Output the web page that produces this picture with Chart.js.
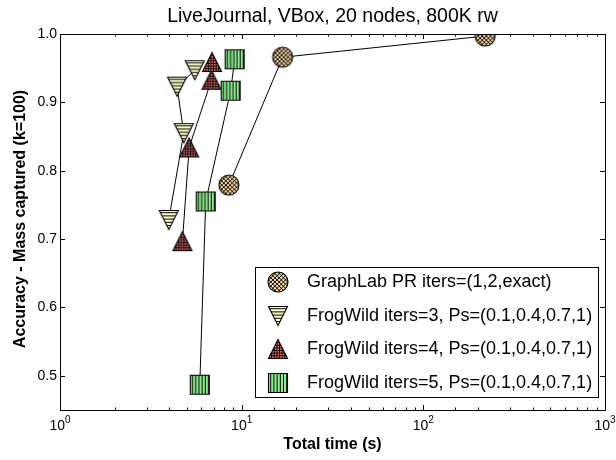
<!DOCTYPE html>
<html>
<head>
<meta charset="utf-8">
<script src="https://cdn.jsdelivr.net/npm/chart.js@4.4.1/dist/chart.umd.min.js"></script>
<style>
  html, body { margin: 0; padding: 0; background: #fff; }
</style>
</head>
<body>
<canvas id="chart" width="616" height="460"></canvas>
<script>
/* ── data ─────────────────────────────────────────────────────────── */
const TITLE = 'LiveJournal, VBox, 20 nodes, 800K rw';
const X_LABEL = 'Total time (s)';
const Y_LABEL = 'Accuracy - Mass captured (k=100)';
const X_MAJOR = [1, 10, 100, 1000];
const X_EXP = ['0', '1', '2', '3'];
const Y_TICKS = [0.5, 0.6, 0.7, 0.8, 0.9, 1.0];

const SERIES_NAMES = [
  'GraphLab PR iters=(1,2,exact)',
  'FrogWild iters=3, Ps=(0.1,0.4,0.7,1)',
  'FrogWild iters=4, Ps=(0.1,0.4,0.7,1)',
  'FrogWild iters=5, Ps=(0.1,0.4,0.7,1)',
];

const graphlabTime = [8.5, 16.8, 219];
const graphlabAcc  = [0.779, 0.966, 0.997];
const fw3Time = [3.97, 4.80, 4.41, 5.52];
const fw3Acc  = [0.728, 0.855, 0.923, 0.947];
const fw4Time = [4.72, 5.14, 6.82, 6.87];
const fw4Acc  = [0.697, 0.834, 0.933, 0.959];
const fw5Time = [5.88, 6.34, 8.70, 9.15];
const fw5Acc  = [0.487, 0.755, 0.917, 0.963];

const FONT = "'Liberation Sans', Arial, sans-serif";

/* ── hatched marker images ────────────────────────────────────────── */
function makeMarker(shape, fill, hatch) {
  const S = 24, m = S / 2, h = 9.5;
  const c = document.createElement('canvas');
  c.width = S; c.height = S;
  const g = c.getContext('2d');
  const path = () => {
    g.beginPath();
    if (shape === 'circle') g.arc(m, m, 10, 0, Math.PI * 2);
    else if (shape === 'down') { g.moveTo(m - h, m - h); g.lineTo(m + h, m - h); g.lineTo(m, m + h); g.closePath(); }
    else if (shape === 'up') { g.moveTo(m, m - h); g.lineTo(m + h, m + h); g.lineTo(m - h, m + h); g.closePath(); }
    else g.rect(m - h, m - h, 2 * h, 2 * h);
  };
  g.save();
  path();
  g.clip();
  g.fillStyle = fill;
  g.fillRect(0, 0, S, S);
  g.strokeStyle = '#000';
  g.lineWidth = 1;
  g.beginPath();
  if (hatch === 'x') {
    for (let k = -S; k < 2 * S; k += 4.2) {
      g.moveTo(k, 0); g.lineTo(k + S, S);
      g.moveTo(k, S); g.lineTo(k + S, 0);
    }
  } else if (hatch === '-') {
    for (let y = 1.5; y < S; y += 3.2) { g.moveTo(0, y); g.lineTo(S, y); }
  } else if (hatch === '+') {
    for (let k = 0.5; k < S; k += 2.6) {
      g.moveTo(0, k); g.lineTo(S, k);
      g.moveTo(k, 0); g.lineTo(k, S);
    }
  } else if (hatch === '|') {
    for (let x = 1.5; x < S; x += 3.2) { g.moveTo(x, 0); g.lineTo(x, S); }
  }
  g.stroke();
  g.restore();
  path();
  g.lineWidth = 1.1;
  g.strokeStyle = '#000';
  g.stroke();
  return c;
}

const MARKERS = [
  makeMarker('circle', '#fcd9a3', 'x'),
  makeMarker('down', '#ffffcc', '-'),
  makeMarker('up', '#ff7a7a', '+'),
  makeMarker('square', '#90ee90', '|'),
];

const toPoints = (xs, ys) => xs.map((x, i) => ({ x, y: ys[i] }));

function series(i, xs, ys, order) {
  return {
    label: SERIES_NAMES[i],
    data: toPoints(xs, ys),
    showLine: true,
    borderColor: '#000',
    borderWidth: 1,
    pointStyle: MARKERS[i],
    pointRadius: 10,
    order,
  };
}

/* ── frame, inward ticks, labels, legend ──────────────────────────── */
const decorations = {
  id: 'decorations',
  afterDraw(chart) {
    const { ctx, chartArea: a } = chart;
    const xs = chart.scales.x, ys = chart.scales.y;
    ctx.save();
    ctx.strokeStyle = '#000';
    ctx.lineWidth = 1;
    ctx.strokeRect(a.left + 0.5, a.top + 0.5, a.right - a.left, a.bottom - a.top);

    // x ticks (major + minor) on bottom and top, pointing in
    ctx.beginPath();
    xs.ticks.forEach(t => {
      const px = Math.round(xs.getPixelForValue(t.value)) + 0.5;
      const major = X_MAJOR.includes(t.value);
      const len = major ? 5 : 2.5;
      ctx.moveTo(px, a.bottom); ctx.lineTo(px, a.bottom - len);
      ctx.moveTo(px, a.top); ctx.lineTo(px, a.top + len);
    });
    // y ticks left and right
    Y_TICKS.forEach(v => {
      const py = Math.round(ys.getPixelForValue(v)) + 0.5;
      ctx.moveTo(a.left, py); ctx.lineTo(a.left + 5, py);
      ctx.moveTo(a.right, py); ctx.lineTo(a.right - 5, py);
    });
    ctx.stroke();

    // x tick labels 10^n
    ctx.fillStyle = '#000';
    ctx.textBaseline = 'alphabetic';
    X_MAJOR.forEach((v, i) => {
      const px = xs.getPixelForValue(v);
      ctx.font = `14px ${FONT}`;
      const wb = ctx.measureText('10').width;
      ctx.font = `10px ${FONT}`;
      const we = ctx.measureText(X_EXP[i]).width;
      const x0 = px - (wb + we) / 2;
      ctx.font = `14px ${FONT}`;
      ctx.textAlign = 'left';
      ctx.fillText('10', x0, 430);
      ctx.font = `10px ${FONT}`;
      ctx.fillText(X_EXP[i], x0 + wb, 423);
    });

    // title and axis titles
    ctx.textAlign = 'center';
    ctx.font = `19.5px ${FONT}`;
    ctx.fillText(TITLE, (a.left + a.right) / 2, 22);
    ctx.font = `bold 16px ${FONT}`;
    ctx.textBaseline = 'middle';
    ctx.fillText(X_LABEL, (a.left + a.right) / 2, 445);
    ctx.save();
    ctx.translate(21, (a.top + a.bottom) / 2 - 3);
    ctx.rotate(-Math.PI / 2);
    ctx.fillText(Y_LABEL, 0, 0);
    ctx.restore();

    // legend
    const lx = 255, ly = 267, lw = 343, lh = 130;
    ctx.fillStyle = '#fff';
    ctx.fillRect(lx, ly, lw, lh);
    ctx.strokeRect(lx + 0.5, ly + 0.5, lw, lh);
    ctx.fillStyle = '#000';
    ctx.font = `18px ${FONT}`;
    ctx.textAlign = 'left';
    SERIES_NAMES.forEach((name, i) => {
      const cy = 282 + i * 33.6;
      const img = MARKERS[i];
      ctx.drawImage(img, 278 - img.width / 2, Math.round(cy - img.height / 2));
      ctx.fillText(name, 307, cy);
    });
    ctx.restore();
  },
};

new Chart(document.getElementById('chart'), {
  type: 'scatter',
  data: {
    datasets: [
      series(0, graphlabTime, graphlabAcc, 3),
      series(1, fw3Time, fw3Acc, 2),
      series(2, fw4Time, fw4Acc, 1),
      series(3, fw5Time, fw5Acc, 0),
    ],
  },
  options: {
    responsive: false,
    animation: false,
    devicePixelRatio: 1,
    layout: { padding: { top: 34, right: 10, left: 0, bottom: 0 } },
    plugins: {
      legend: { display: false },
      tooltip: { enabled: false },
      title: { display: false },
    },
    scales: {
      x: {
        type: 'logarithmic',
        min: 1,
        max: 1000,
        ticks: { display: false },
        grid: { display: false, drawTicks: false },
        border: { display: false },
        afterFit(s) { s.height = 50; s.paddingLeft = 0; s.paddingRight = 0; },
      },
      y: {
        type: 'linear',
        min: 0.45,
        max: 1.0,
        afterBuildTicks(s) { s.ticks = Y_TICKS.map(v => ({ value: v })); },
        ticks: {
          color: '#000',
          padding: 3,
          font: { family: FONT, size: 14 },
          callback: v => v.toFixed(1),
        },
        grid: { display: false, drawTicks: false },
        border: { display: false },
        afterFit(s) { s.width = 60; s.paddingTop = 0; s.paddingBottom = 0; },
      },
    },
  },
  plugins: [decorations],
});
</script>
</body>
</html>
